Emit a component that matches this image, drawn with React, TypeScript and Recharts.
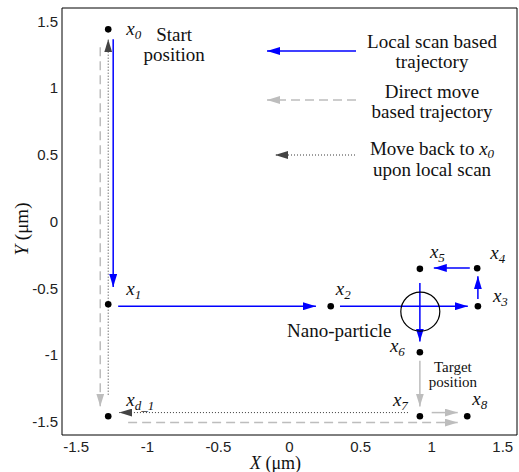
import React from 'react';
import { ComposedChart, Line, Scatter, XAxis, YAxis, ReferenceDot, Legend } from 'recharts';

// axis setup (µm)
const DOMAIN: [number, number] = [-1.6, 1.6];
const TICKS = [-1.5, -1, -0.5, 0, 0.5, 1, 1.5];

// way points x0..x8 and xd_1
const POINTS = [
  { id: 'x0', sub: '0', x: -1.275, y: 1.44 },
  { id: 'x1', sub: '1', x: -1.275, y: -0.62 },
  { id: 'x2', sub: '2', x: 0.29, y: -0.635 },
  { id: 'x3', sub: '3', x: 1.325, y: -0.635 },
  { id: 'x4', sub: '4', x: 1.32, y: -0.35 },
  { id: 'x5', sub: '5', x: 0.917, y: -0.355 },
  { id: 'x6', sub: '6', x: 0.917, y: -0.98 },
  { id: 'x7', sub: '7', x: 0.917, y: -1.46 },
  { id: 'x8', sub: '8', x: 1.25, y: -1.46 },
  { id: 'xd1', sub: 'd_1', x: -1.275, y: -1.46 },
];

const PARTICLE = { x: 0.92, y: -0.675 };

// each path is [from, to]; arrow head sits on "to"
const SCAN_PATHS = [
  [{ x: -1.24, y: 1.365 }, { x: -1.24, y: -0.49 }],
  [{ x: -1.205, y: -0.635 }, { x: 0.186, y: -0.635 }],
  [{ x: 0.355, y: -0.635 }, { x: 1.254, y: -0.635 }],
  [{ x: 1.325, y: -0.58 }, { x: 1.325, y: -0.41 }],
  [{ x: 1.268, y: -0.348 }, { x: 1.015, y: -0.348 }],
  [{ x: 0.917, y: -0.46 }, { x: 0.917, y: -0.9 }],
];

const DIRECT_SOLID = [
  [{ x: 0.917, y: -1.043 }, { x: 0.917, y: -1.387 }],
  [{ x: 1.0, y: -1.432 }, { x: 1.183, y: -1.432 }],
];

const DIRECT_DASHED = [
  [{ x: -1.331, y: 1.305 }, { x: -1.331, y: -1.387 }],
  [{ x: -1.135, y: -1.507 }, { x: 1.183, y: -1.507 }],
];

const MOVE_BACK = [
  [{ x: 0.833, y: -1.432 }, { x: -1.198, y: -1.432 }],
  [{ x: -1.275, y: -1.298 }, { x: -1.275, y: 1.365 }],
];

const ANNOTATIONS = [
  { id: 'start', anchor: 'x0', lines: ['Start', 'position'] },
  { id: 'nano', anchor: 'particle', lines: ['Nano-particle'] },
  { id: 'target', anchor: 'x6', lines: ['Target', 'position'] },
];

const LEGEND_ITEMS = [
  { id: 'scan', lines: ['Local scan based', 'trajectory'] },
  { id: 'direct', lines: ['Direct move', 'based trajectory'] },
  { id: 'back', lines: ['Move back to ', 'upon local scan'] },
];

// ---- styles ----
const SERIF = '"Liberation Serif", "Times New Roman", serif';
const SANS = '"Liberation Sans", Arial, sans-serif';
const BLUE = '#0000ff';
const LIGHT = '#bdbdbd';
const DARK = '#3a3a3a';

const ARROWS: Record<string, string> = { 'ah-blue': BLUE, 'ah-gray': LIGHT, 'ah-dark': '#444' };

// pixel offsets of each label from its point (text start, baseline)
const LABEL_OFFSET: Record<string, [number, number]> = {
  x0: [18, 6],
  x1: [18, -9],
  x2: [5, -11],
  x3: [15, -4],
  x4: [13, -9],
  x5: [10, -11],
  x6: [-30, 0],
  x7: [-27, -10],
  x8: [5, -11],
  xd1: [18, -10],
};

const ANNOT_STYLE: Record<string, { dx: number; dys: number[]; size: number }> = {
  start: { dx: 66, dys: [12, 32], size: 19 },
  nano: { dx: -81, dys: [25], size: 19 },
  target: { dx: 33, dys: [20, 35], size: 15 },
};

const LEGEND_ROWS: Record<string, { y: number; x1: number; x2: number; base: number[] }> = {
  scan: { y: 21, x1: 96, x2: 7, base: [18, 38] },
  direct: { y: 70, x1: 96, x2: 7, base: [68, 88] },
  back: { y: 125, x1: 95, x2: 15, base: [125, 146] },
};

const findAnchor = (key: string) =>
  key === 'particle' ? PARTICLE : POINTS.find((p) => p.id === key)!;

const ANNOT_DATA = ANNOTATIONS.map((a) => ({ ...a, x: findAnchor(a.anchor).x, y: findAnchor(a.anchor).y }));

const PointMark = (props: any) => {
  const { cx, cy, payload } = props;
  const [dx, dy] = LABEL_OFFSET[payload.id];
  return (
    <g>
      <circle cx={cx} cy={cy} r={3.3} fill="#000" />
      <text x={cx + dx} y={cy + dy} fontFamily={SERIF} fontSize={19} fontStyle="italic" fill="#111">
        x<tspan fontSize={13} dy={4}>{payload.sub}</tspan>
      </text>
    </g>
  );
};

const AnnotMark = (props: any) => {
  const { cx, cy, payload } = props;
  const st = ANNOT_STYLE[payload.id];
  return (
    <g>
      {payload.lines.map((t: string, i: number) => (
        <text key={i} x={cx + st.dx} y={cy + st.dys[i]} textAnchor="middle" fontFamily={SERIF} fontSize={st.size} fill="#111">
          {t}
        </text>
      ))}
    </g>
  );
};

const legendStroke = (id: string) => {
  if (id === 'scan') return { stroke: BLUE, strokeWidth: 1.5, marker: 'ah-blue' };
  if (id === 'direct') return { stroke: LIGHT, strokeWidth: 1.5, dash: '9 5', marker: 'ah-gray' };
  return { stroke: DARK, strokeWidth: 1, dash: '1 2', marker: 'ah-dark' };
};

const LegendBox = () => (
  <svg width={259} height={160} style={{ display: 'block' }}>
    {LEGEND_ITEMS.map((item) => {
      const row = LEGEND_ROWS[item.id];
      const s = legendStroke(item.id);
      return (
        <g key={item.id}>
          <line
            x1={row.x1}
            y1={row.y}
            x2={row.x2}
            y2={row.y}
            stroke={s.stroke}
            strokeWidth={s.strokeWidth}
            strokeDasharray={s.dash}
            markerEnd={`url(#${s.marker})`}
          />
          {item.lines.map((t, i) => (
            <text key={i} x={172} y={row.base[i]} textAnchor="middle" fontFamily={SERIF} fontSize={19} fill="#111">
              {t}
              {item.id === 'back' && i === 0 ? (
                <>
                  <tspan fontStyle="italic">x</tspan>
                  <tspan fontStyle="italic" fontSize={13} dy={3}>0</tspan>
                </>
              ) : null}
            </text>
          ))}
        </g>
      );
    })}
  </svg>
);

const XTitle = (props: any) => {
  const vb = props.viewBox;
  return (
    <text x={vb.x + vb.width / 2 - 14} y={vb.y + 34} textAnchor="middle" fontFamily={SERIF} fontSize={18} fill="#111">
      <tspan fontStyle="italic">X</tspan> (μm)
    </text>
  );
};

const YTitle = () => (
  <text x={28} y={229} transform="rotate(-90, 28, 229)" textAnchor="middle" fontFamily={SERIF} fontSize={19} fill="#111">
    <tspan fontStyle="italic">Y</tspan> (μm)
  </text>
);

const tickStyle = { fontSize: 15, fill: '#222', fontFamily: SANS };

const pathLines = (paths: { x: number; y: number }[][], key: string, stroke: string, width: number, marker: string, dash?: string) =>
  paths.map((seg, i) => (
    <Line
      key={`${key}${i}`}
      data={seg}
      dataKey="y"
      type="linear"
      stroke={stroke}
      strokeWidth={width}
      strokeDasharray={dash}
      dot={false}
      activeDot={false}
      legendType="none"
      isAnimationActive={false}
      markerEnd={`url(#${marker})`}
    />
  ));

export default function App() {
  return (
    <div style={{ position: 'absolute', left: 0, top: 0, width: 519, height: 472, background: '#fff' }}>
      <svg width={0} height={0} style={{ position: 'absolute' }}>
        <defs>
          {Object.entries(ARROWS).map(([id, color]) => (
            <marker
              key={id}
              id={id}
              viewBox="0 0 13 8"
              refX={13}
              refY={4}
              markerWidth={13}
              markerHeight={8}
              markerUnits="userSpaceOnUse"
              orient="auto"
            >
              <path d="M0,0 L13,4 L0,8 z" fill={color} />
            </marker>
          ))}
        </defs>
      </svg>
      <ComposedChart width={519} height={472} margin={{ top: 8, right: 2, left: 30, bottom: 7 }}>
        <XAxis
          dataKey="x"
          type="number"
          domain={DOMAIN}
          ticks={TICKS}
          interval={0}
          allowDataOverflow
          height={30}
          tickSize={0}
          tickMargin={6}
          tick={tickStyle}
          axisLine={{ stroke: '#000' }}
          label={<XTitle />}
        />
        <XAxis xAxisId="in" dataKey="x" type="number" domain={DOMAIN} ticks={TICKS} interval={0} allowDataOverflow mirror tick={false} tickSize={5} axisLine={false} tickLine={{ stroke: '#000' }} />
        <XAxis xAxisId="top" orientation="top" dataKey="x" type="number" domain={DOMAIN} ticks={TICKS} interval={0} allowDataOverflow mirror tick={false} tickSize={5} axisLine={{ stroke: '#000' }} tickLine={{ stroke: '#000' }} />
        <YAxis
          dataKey="y"
          type="number"
          domain={DOMAIN}
          ticks={TICKS}
          interval={0}
          allowDataOverflow
          width={32}
          tickSize={0}
          tickMargin={4}
          tick={tickStyle}
          axisLine={{ stroke: '#000' }}
          label={<YTitle />}
        />
        <YAxis yAxisId="in" dataKey="y" type="number" domain={DOMAIN} ticks={TICKS} interval={0} allowDataOverflow mirror tick={false} tickSize={5} axisLine={false} tickLine={{ stroke: '#000' }} />
        <YAxis yAxisId="right" orientation="right" dataKey="y" type="number" domain={DOMAIN} ticks={TICKS} interval={0} allowDataOverflow mirror tick={false} tickSize={5} axisLine={{ stroke: '#000' }} tickLine={{ stroke: '#000' }} />

        <ReferenceDot x={PARTICLE.x} y={PARTICLE.y} r={19.5} fill="none" stroke="#000" strokeWidth={1.2} />

        {pathLines(DIRECT_DASHED, 'dd', LIGHT, 1.5, 'ah-gray', '9 5')}
        {pathLines(DIRECT_SOLID, 'ds', LIGHT, 1.5, 'ah-gray')}
        {pathLines(MOVE_BACK, 'mb', DARK, 1, 'ah-dark', '1 2')}
        {pathLines(SCAN_PATHS, 'sc', BLUE, 1.5, 'ah-blue')}

        <Scatter data={POINTS} shape={<PointMark />} isAnimationActive={false} legendType="none" />
        <Scatter data={ANNOT_DATA} shape={<AnnotMark />} isAnimationActive={false} legendType="none" />

        <Legend
          layout="horizontal"
          verticalAlign="middle"
          align="center"
          content={<LegendBox />}
          wrapperStyle={{ left: 260, top: 30, width: 259, height: 160 }}
        />
      </ComposedChart>
    </div>
  );
}
